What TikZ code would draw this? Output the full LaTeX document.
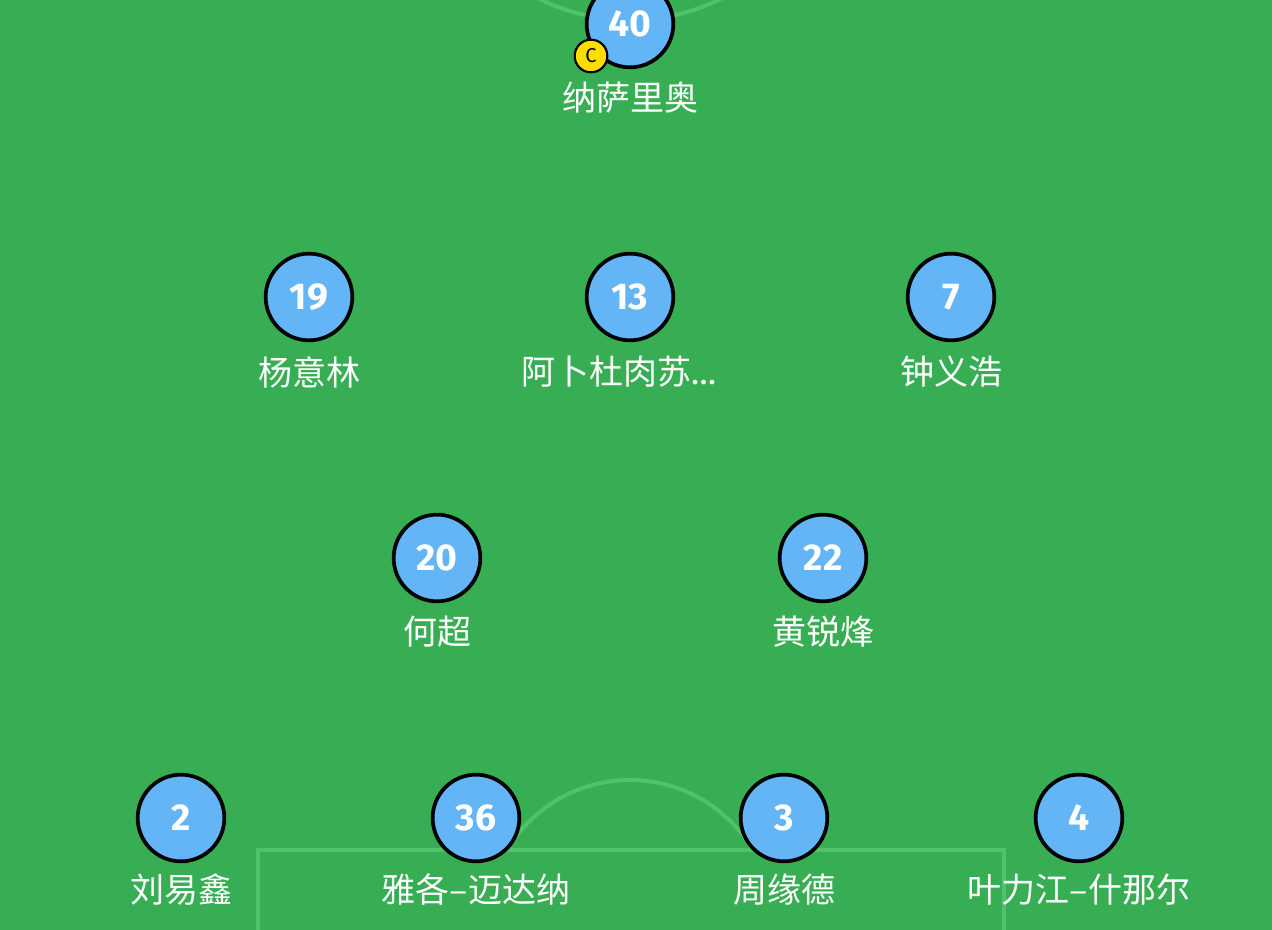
\documentclass[tikz,border=0pt]{standalone}
\usepackage{fontspec}
\setmainfont{Fira Sans}
\newfontfamily\cjk{Noto Sans CJK SC}
\usetikzlibrary{calc}
\definecolor{grass}{RGB}{56,174,84}
\definecolor{pitchline}{RGB}{80,194,106}
\definecolor{shirt}{RGB}{100,181,246}
\definecolor{armband}{RGB}{255,221,0}

\begin{document}
\begin{tikzpicture}[x=0.75pt,y=-0.75pt,
                    player/.style={circle,draw=black,line width=2.8pt,fill=shirt,minimum size=65pt,inner sep=0pt,text=white,font={\bfseries\fontsize{28}{28}\selectfont}},
                    playerlabel/.style={text=white,inner sep=0pt,font={\cjk\fontsize{25.5}{25.5}\selectfont}},
                    captain/.style={circle,draw=black,line width=1.6pt,fill=armband,minimum size=24.5pt,inner sep=0pt,font={\fontsize{15}{15}\selectfont}},
                    markings/.style={draw=pitchline,line width=3pt}]
            \fill[grass] (0,0) rectangle (1272,930);
            \useasboundingbox (0,0) rectangle (1272,930);
            \clip (0,0) rectangle (1272,930);

            % pitch markings
            \draw[markings] (630,-185) circle[radius=153.75pt];
            \draw[markings] (507,850) arc[start angle=149.3,end angle=30.7,radius=107.25pt];
            \draw[markings] (258,850) rectangle (1004,960);

            % forward
            \node[player] (p40) at (630,24) {40};
            \node[captain] (cap40) at (591,56) {C};
            \node[playerlabel] (n40) at ($ (p40) + (0,74) $) {纳萨里奥};

            % attacking midfield
            \node[player] (p19) at (309,297) {19};
            \node[playerlabel] (n19) at ($ (p19) + (0,75) $) {杨意林};
            \node[player] (p13) at (630,297) {13};
            \node[playerlabel] (n13) at ($ (p13) + (-11,75) $) {阿卜杜肉苏{\rmfamily …}};
            \node[player] (p7) at (951,297) {7};
            \node[playerlabel] (n7) at ($ (p7) + (0,75) $) {钟义浩};

            % holding midfield
            \node[player] (p20) at (437,558) {20};
            \node[playerlabel] (n20) at ($ (p20) + (0,74) $) {何超};
            \node[player] (p22) at (823,558) {22};
            \node[playerlabel] (n22) at ($ (p22) + (0,74) $) {黄锐烽};

            % defence
            \node[player] (p2) at (181,818) {2};
            \node[playerlabel] (n2) at ($ (p2) + (0,72) $) {刘易鑫};
            \node[player] (p36) at (476,818) {36};
            \node[playerlabel] (n36) at ($ (p36) + (0,72) $) {雅各–迈达纳};
            \node[player] (p3) at (784,818) {3};
            \node[playerlabel] (n3) at ($ (p3) + (0,72) $) {周缘德};
            \node[player] (p4) at (1079,818) {4};
            \node[playerlabel] (n4) at ($ (p4) + (0,72) $) {叶力江–什那尔};
        \end{tikzpicture}
\end{document}
